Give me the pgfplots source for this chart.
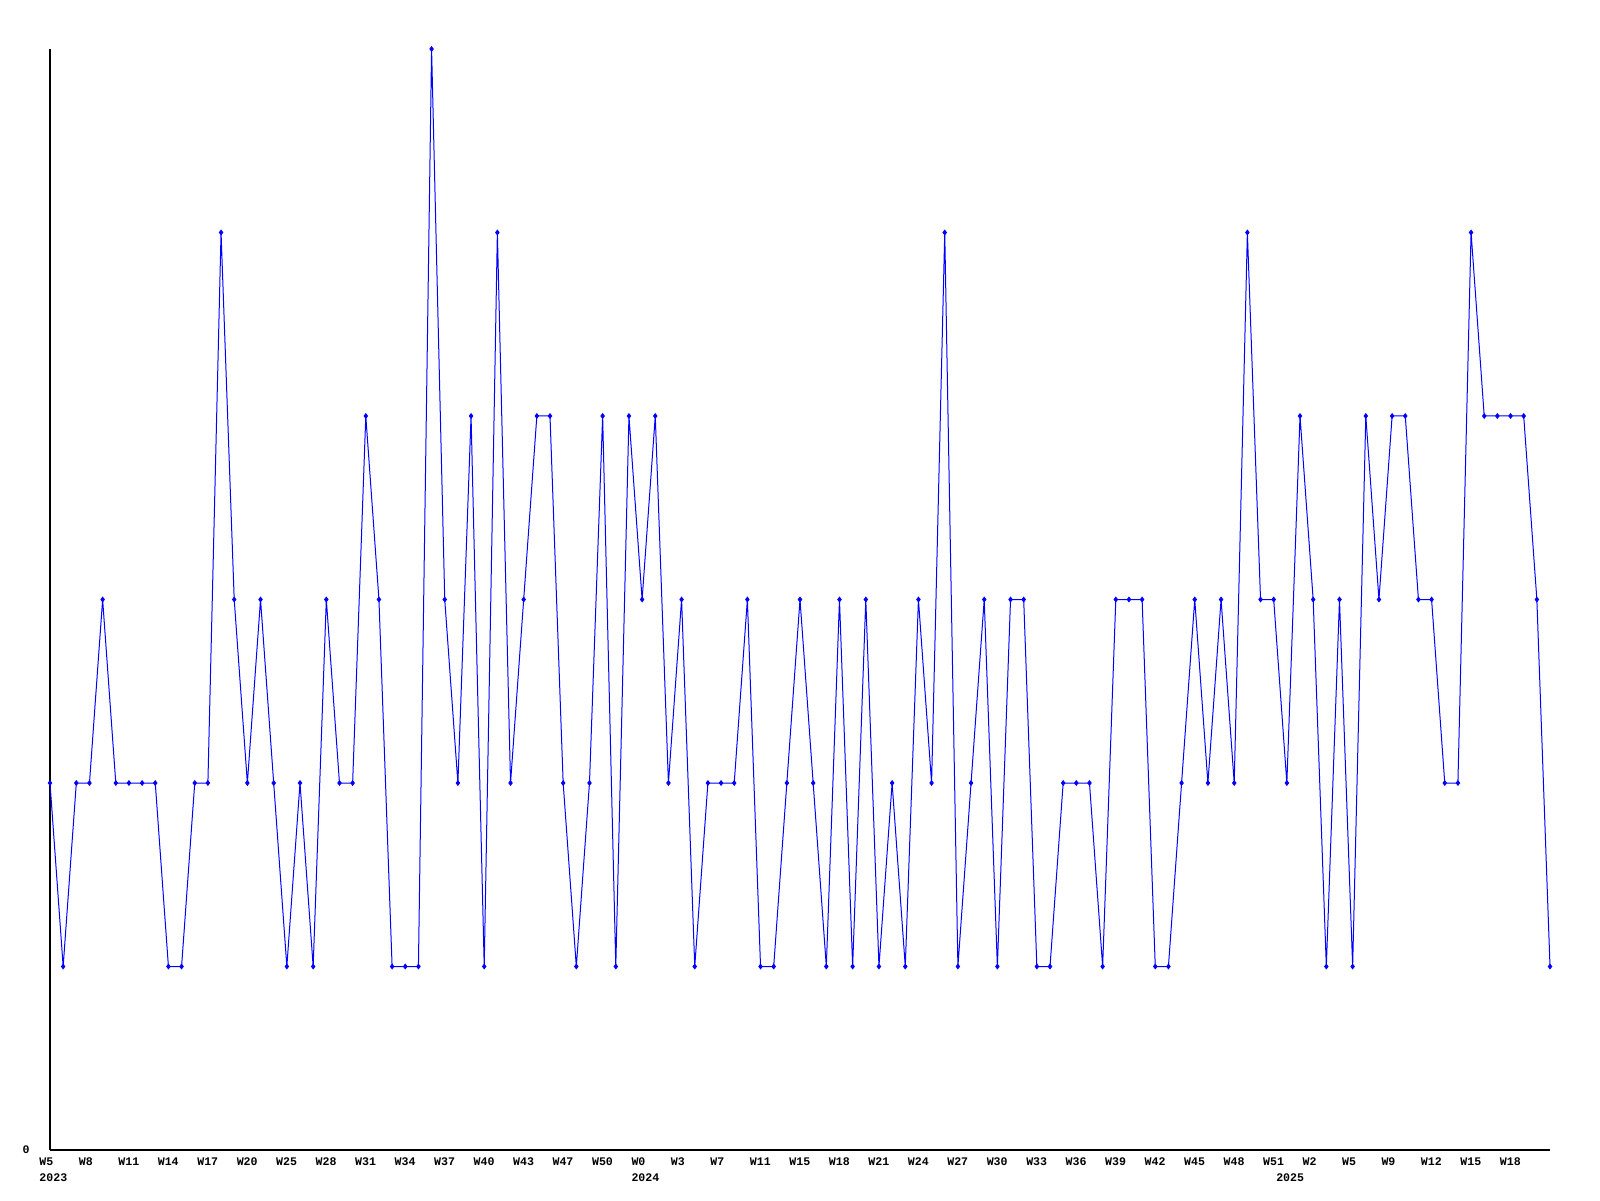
\documentclass[border=0pt]{standalone}
\usepackage{fontspec}
\setmainfont{Liberation Mono}
\usepackage{pgfplots}
\pgfplotsset{compat=1.18}
\begin{document}
\begin{tikzpicture}
\begin{axis}[
 at={(0pt,0pt)}, anchor=south west,
 scale only axis, width=750pt, height=550.5pt,
 xmin=0, xmax=114, ymin=0, ymax=6,
 axis lines*=left,
 axis line style={black, line width=0.75pt},
 clip=false,
 xtick={0,3,...,111},
 xticklabels={W5,W8,W11,W14,W17,W20,W25,W28,W31,W34,W37,W40,W43,W47,W50,W0,W3,W7,W11,W15,W18,W21,W24,W27,W30,W33,W36,W39,W42,W45,W48,W51,W2,W5,W9,W12,W15,W18},
 ytick={0}, yticklabels={0},
 major tick length=0pt,
 tick label style={font=\fontsize{5.8}{7}\selectfont\bfseries, inner sep=0pt},
 xticklabel style={anchor=west, xshift=-5.5pt, yshift=-6pt},
 yticklabel style={anchor=center, xshift=-12pt},
 /pgf/number format/assume math mode=true,
]
\addplot[color={rgb,255:red,0;green,0;blue,255}, line width=0.5pt, mark=diamond*, mark size=1.1pt, mark options={solid}] coordinates {
(0,2)(1,1)(2,2)(3,2)(4,3)(5,2)(6,2)(7,2)(8,2)(9,1)
(10,1)(11,2)(12,2)(13,5)(14,3)(15,2)(16,3)(17,2)(18,1)(19,2)
(20,1)(21,3)(22,2)(23,2)(24,4)(25,3)(26,1)(27,1)(28,1)(29,6)
(30,3)(31,2)(32,4)(33,1)(34,5)(35,2)(36,3)(37,4)(38,4)(39,2)
(40,1)(41,2)(42,4)(43,1)(44,4)(45,3)(46,4)(47,2)(48,3)(49,1)
(50,2)(51,2)(52,2)(53,3)(54,1)(55,1)(56,2)(57,3)(58,2)(59,1)
(60,3)(61,1)(62,3)(63,1)(64,2)(65,1)(66,3)(67,2)(68,5)(69,1)
(70,2)(71,3)(72,1)(73,3)(74,3)(75,1)(76,1)(77,2)(78,2)(79,2)
(80,1)(81,3)(82,3)(83,3)(84,1)(85,1)(86,2)(87,3)(88,2)(89,3)
(90,2)(91,5)(92,3)(93,3)(94,2)(95,4)(96,3)(97,1)(98,3)(99,1)
(100,4)(101,3)(102,4)(103,4)(104,3)(105,3)(106,2)(107,2)(108,5)(109,4)
(110,4)(111,4)(112,4)(113,3)(114,1)
};
\node[anchor=west, inner sep=0pt, font=\fontsize{5.8}{7}\selectfont\bfseries, xshift=-5.5pt, yshift=-13.75pt] at (axis cs:0,0) {2023};
\node[anchor=west, inner sep=0pt, font=\fontsize{5.8}{7}\selectfont\bfseries, xshift=-5.5pt, yshift=-13.75pt] at (axis cs:45,0) {2024};
\node[anchor=west, inner sep=0pt, font=\fontsize{5.8}{7}\selectfont\bfseries, xshift=-5.5pt, yshift=-13.75pt] at (axis cs:94,0) {2025};
\end{axis}
\pgfresetboundingbox
\path[use as bounding box] (-25pt,-25pt) rectangle (775pt,575pt);
\end{tikzpicture}
\end{document}
